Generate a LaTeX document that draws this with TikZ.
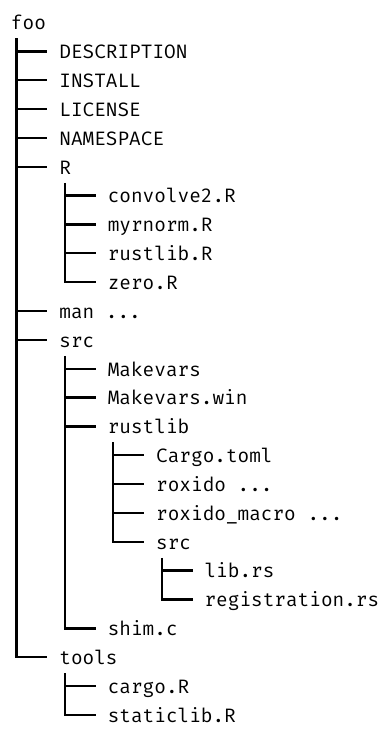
\documentclass[tikz,border=0pt]{standalone}
\usepackage{fontspec}
\setmonofont{Fira Mono}
\usetikzlibrary{calc}
\tikzset{
  entry/.style={anchor=west, inner sep=0pt, outer sep=0pt,
    font=\fontsize{14.55}{17}\selectfont\ttfamily,
    text height=12pt, text depth=1pt},
  tree/.style={line width=1.75pt, black}
}
\begin{document}
\begin{tikzpicture}[x=0.75pt, y=-0.75pt]
\useasboundingbox (0,0) rectangle (389,731);
% text x per level: 11, 59.4, 107.8, 156.2, 204.6 ; row pitch 28.85
\node[entry] (foo)   at (11,   {22.5+28.85*0})  {foo};
\node[entry] (desc)  at (59.4, {22.5+28.85*1})  {DESCRIPTION};
\node[entry] (inst)  at (59.4, {22.5+28.85*2})  {INSTALL};
\node[entry] (lic)   at (59.4, {22.5+28.85*3})  {LICENSE};
\node[entry] (ns)    at (59.4, {22.5+28.85*4})  {NAMESPACE};
\node[entry] (R)     at (59.4, {22.5+28.85*5})  {R};
\node[entry] (conv)  at (107.8,{22.5+28.85*6})  {convolve2.R};
\node[entry] (myrn)  at (107.8,{22.5+28.85*7})  {myrnorm.R};
\node[entry] (rlR)   at (107.8,{22.5+28.85*8})  {rustlib.R};
\node[entry] (zero)  at (107.8,{22.5+28.85*9})  {zero.R};
\node[entry] (man)   at (59.4, {22.5+28.85*10}) {man ...};
\node[entry] (src)   at (59.4, {22.5+28.85*11}) {src};
\node[entry] (mkv)   at (107.8,{22.5+28.85*12}) {Makevars};
\node[entry] (mkvw)  at (107.8,{22.5+28.85*13}) {Makevars.win};
\node[entry] (rlib)  at (107.8,{22.5+28.85*14}) {rustlib};
\node[entry] (cargo) at (156.2,{22.5+28.85*15}) {Cargo.toml};
\node[entry] (rox)   at (156.2,{22.5+28.85*16}) {roxido ...};
\node[entry] (roxm)  at (156.2,{22.5+28.85*17}) {roxido\_macro ...};
\node[entry] (isrc)  at (156.2,{22.5+28.85*18}) {src};
\node[entry] (lib)   at (204.6,{22.5+28.85*19}) {lib.rs};
\node[entry] (reg)   at (204.6,{22.5+28.85*20}) {registration.rs};
\node[entry] (shim)  at (107.8,{22.5+28.85*21}) {shim.c};
\node[entry] (tools) at (59.4, {22.5+28.85*22}) {tools};
\node[entry] (cR)    at (107.8,{22.5+28.85*23}) {cargo.R};
\node[entry] (sR)    at (107.8,{22.5+28.85*24}) {staticlib.R};

% vertical starts below each parent
\coordinate (vfoo)   at ($(foo.west)+(5.5,16)$);
\coordinate (vR)     at ($(R.west)+(5.5,16)$);
\coordinate (vsrc)   at ($(src.west)+(5.5,16)$);
\coordinate (vrlib)  at ($(rlib.west)+(5.5,16)$);
\coordinate (visrc)  at ($(isrc.west)+(5.5,16)$);
\coordinate (vtools) at ($(tools.west)+(5.5,16)$);

% foo
\draw[tree] (vfoo) |- ($(tools.west)+(-12,0)$);
\foreach \c in {desc,inst,lic,ns,R,man,src}
  \draw[tree] (vfoo |- \c.west) -- ($(\c.west)+(-12,0)$);
% R
\draw[tree] (vR) |- ($(zero.west)+(-12,0)$);
\foreach \c in {conv,myrn,rlR}
  \draw[tree] (vR |- \c.west) -- ($(\c.west)+(-12,0)$);
% src
\draw[tree] (vsrc) |- ($(shim.west)+(-12,0)$);
\foreach \c in {mkv,mkvw,rlib}
  \draw[tree] (vsrc |- \c.west) -- ($(\c.west)+(-12,0)$);
% rustlib
\draw[tree] (vrlib) |- ($(isrc.west)+(-12,0)$);
\foreach \c in {cargo,rox,roxm}
  \draw[tree] (vrlib |- \c.west) -- ($(\c.west)+(-12,0)$);
% inner src
\draw[tree] (visrc) |- ($(reg.west)+(-12,0)$);
\draw[tree] (visrc |- lib.west) -- ($(lib.west)+(-12,0)$);
% tools
\draw[tree] (vtools) |- ($(sR.west)+(-12,0)$);
\draw[tree] (vtools |- cR.west) -- ($(cR.west)+(-12,0)$);
\end{tikzpicture}
\end{document}
